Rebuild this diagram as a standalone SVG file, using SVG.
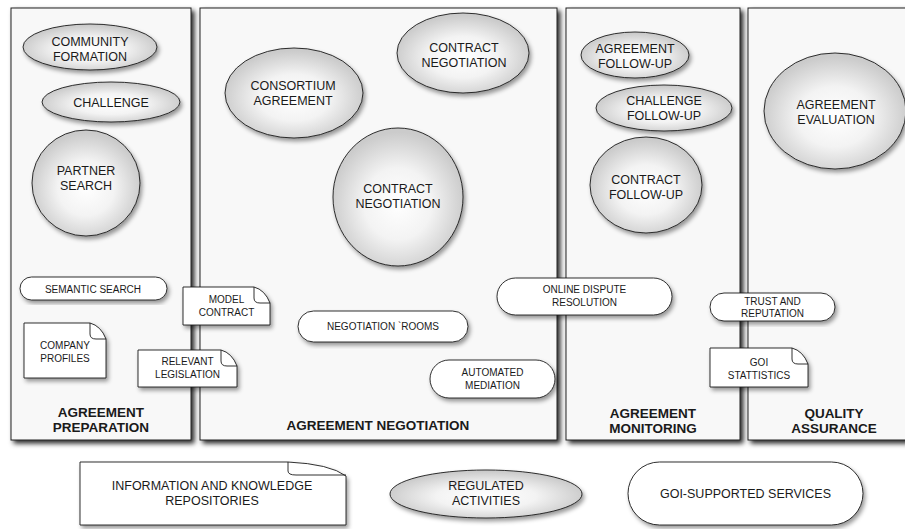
<svg xmlns="http://www.w3.org/2000/svg" width="905" height="529" viewBox="0 0 905 529">
<defs>
<radialGradient id="g" cx="50%" cy="55%" r="52%">
<stop offset="0" stop-color="#ffffff"/>
<stop offset="0.5" stop-color="#f3f3f3"/>
<stop offset="1" stop-color="#cbcbcb"/>
</radialGradient>
<filter id="ps" x="-5%" y="-5%" width="115%" height="115%">
<feDropShadow dx="3" dy="3" stdDeviation="2.5" flood-color="#000" flood-opacity="0.85"/>
</filter>
<filter id="ns" x="-10%" y="-10%" width="125%" height="130%">
<feDropShadow dx="2" dy="3" stdDeviation="2" flood-color="#000" flood-opacity="0.4"/>
</filter>
<style>
.panel{fill:#f8f8f8;stroke:#222;stroke-width:1;filter:url(#ps)}
.act{fill:url(#g);stroke:#1a1a1a;stroke-width:0.9;filter:url(#ns)}
.svc{fill:#fff;stroke:#1a1a1a;stroke-width:0.9;filter:url(#ns)}
.doc{fill:#fff;stroke:#1a1a1a;stroke-width:0.9;filter:url(#ns)}
.fold{fill:none;stroke:#1a1a1a;stroke-width:0.9}
text{font-family:"Liberation Sans",Arial,Helvetica,sans-serif;fill:#1a1a1a;text-anchor:middle}
.t12{font-size:12.5px}
.t10{font-size:10px}
.lbl{font-size:13.5px;font-weight:bold}
</style>
</defs>

<g id="panel-preparation">
<rect class="panel" x="11" y="8" width="180" height="432"/>
<text class="lbl" x="101" y="417">AGREEMENT</text>
<text class="lbl" x="101" y="432">PREPARATION</text>
</g>
<g id="panel-negotiation">
<rect class="panel" x="200" y="8" width="357" height="432"/>
<text class="lbl" x="378" y="430">AGREEMENT NEGOTIATION</text>
</g>
<g id="panel-monitoring">
<rect class="panel" x="566" y="8" width="174" height="432"/>
<text class="lbl" x="653" y="418">AGREEMENT</text>
<text class="lbl" x="653" y="433">MONITORING</text>
</g>
<g id="panel-quality">
<rect class="panel" x="748" y="8" width="170" height="432"/>
<text class="lbl" x="834" y="418">QUALITY</text>
<text class="lbl" x="834" y="433">ASSURANCE</text>
</g>

<g id="connectors"></g>

<g id="community-formation">
<ellipse class="act" cx="90" cy="47" rx="67" ry="23"/>
<text class="t12" x="90" y="46">COMMUNITY</text>
<text class="t12" x="90" y="60.5">FORMATION</text>
</g>
<g id="challenge">
<ellipse class="act" cx="111" cy="102" rx="69" ry="20"/>
<text class="t12" x="111" y="106.5">CHALLENGE</text>
</g>
<g id="partner-search">
<ellipse class="act" cx="86" cy="183" rx="54" ry="53"/>
<text class="t12" x="86" y="175">PARTNER</text>
<text class="t12" x="86" y="189.5">SEARCH</text>
</g>
<g id="semantic-search">
<rect class="svc" x="20" y="277" width="147" height="23" rx="11.5"/>
<text class="t10" x="93" y="292.5">SEMANTIC SEARCH</text>
</g>
<g id="company-profiles">
<path class="doc" d="M24,323 H90 Q101,326 106,339 V378 H24 Z"/>
<path class="fold" d="M90,323 V334 Q90,339 96,339 H106"/>
<text class="t10" x="65" y="349">COMPANY</text>
<text class="t10" x="65" y="362">PROFILES</text>
</g>

<g id="consortium-agreement">
<ellipse class="act" cx="294" cy="93" rx="69" ry="45"/>
<text class="t12" x="293" y="90">CONSORTIUM</text>
<text class="t12" x="293" y="104.5">AGREEMENT</text>
</g>
<g id="contract-negotiation-1">
<ellipse class="act" cx="463" cy="53" rx="66" ry="40"/>
<text class="t12" x="464" y="52">CONTRACT</text>
<text class="t12" x="464" y="66.5">NEGOTIATION</text>
</g>
<g id="contract-negotiation-2">
<ellipse class="act" cx="398" cy="197" rx="65" ry="69"/>
<text class="t12" x="398" y="193">CONTRACT</text>
<text class="t12" x="398" y="207.5">NEGOTIATION</text>
</g>
<g id="negotiation-rooms">
<rect class="svc" x="298" y="311" width="170" height="31" rx="15.5"/>
<text class="t10" x="383" y="330">NEGOTIATION `ROOMS</text>
</g>
<g id="automated-mediation">
<rect class="svc" x="430" y="360" width="125" height="38" rx="19"/>
<text class="t10" x="492.5" y="376">AUTOMATED</text>
<text class="t10" x="492.5" y="388.5">MEDIATION</text>
</g>

<g id="model-contract">
<path class="doc" d="M183,287 H254 Q265,290 270,303 V325 H183 Z"/>
<path class="fold" d="M254,287 V298 Q254,303 260,303 H270"/>
<text class="t10" x="226.5" y="303">MODEL</text>
<text class="t10" x="226.5" y="316">CONTRACT</text>
</g>
<g id="relevant-legislation">
<path class="doc" d="M138,350 H221 Q232,353 237,366 V387 H138 Z"/>
<path class="fold" d="M221,350 V361 Q221,366 227,366 H237"/>
<text class="t10" x="187.5" y="365">RELEVANT</text>
<text class="t10" x="187.5" y="378">LEGISLATION</text>
</g>

<g id="agreement-follow-up">
<ellipse class="act" cx="635" cy="55" rx="54" ry="23"/>
<text class="t12" x="635" y="53">AGREEMENT</text>
<text class="t12" x="635" y="67.5">FOLLOW-UP</text>
</g>
<g id="challenge-follow-up">
<ellipse class="act" cx="664" cy="108" rx="68" ry="23"/>
<text class="t12" x="664" y="105">CHALLENGE</text>
<text class="t12" x="664" y="119.5">FOLLOW-UP</text>
</g>
<g id="contract-follow-up">
<ellipse class="act" cx="646" cy="185" rx="56" ry="48"/>
<text class="t12" x="646" y="184">CONTRACT</text>
<text class="t12" x="646" y="198.5">FOLLOW-UP</text>
</g>
<g id="online-dispute-resolution">
<rect class="svc" x="497" y="278" width="175" height="37" rx="18.5"/>
<text class="t10" x="584.5" y="293">ONLINE DISPUTE</text>
<text class="t10" x="584.5" y="306">RESOLUTION</text>
</g>

<g id="agreement-evaluation">
<ellipse class="act" cx="835" cy="111" rx="71" ry="58"/>
<text class="t12" x="836" y="109">AGREEMENT</text>
<text class="t12" x="836" y="123.5">EVALUATION</text>
</g>
<g id="trust-reputation">
<rect class="svc" x="710" y="293" width="125" height="28" rx="14"/>
<text class="t10" x="772.5" y="305">TRUST AND</text>
<text class="t10" x="772.5" y="317">REPUTATION</text>
</g>
<g id="goi-statistics">
<path class="doc" d="M710,348 H792 Q803,351 808,364 V387 H710 Z"/>
<path class="fold" d="M792,348 V359 Q792,364 798,364 H808"/>
<text class="t10" x="759" y="366">GOI</text>
<text class="t10" x="759" y="378.5">STATTISTICS</text>
</g>

<g id="legend-repositories">
<path class="doc" d="M80,462 H288 Q330,464 346,476 V525 H80 Z"/>
<path class="fold" d="M288,462 V471 Q288,475 296,475 H346"/>
<text class="t12" x="212" y="490">INFORMATION AND KNOWLEDGE</text>
<text class="t12" x="212" y="505">REPOSITORIES</text>
</g>
<g id="legend-regulated">
<ellipse class="act" cx="486" cy="494" rx="96" ry="24"/>
<text class="t12" x="486" y="490">REGULATED</text>
<text class="t12" x="486" y="505">ACTIVITIES</text>
</g>
<g id="legend-goi">
<rect class="svc" x="628" y="462" width="235" height="63" rx="31.5"/>
<text class="t12" x="745.5" y="498">GOI-SUPPORTED SERVICES</text>
</g>
</svg>
